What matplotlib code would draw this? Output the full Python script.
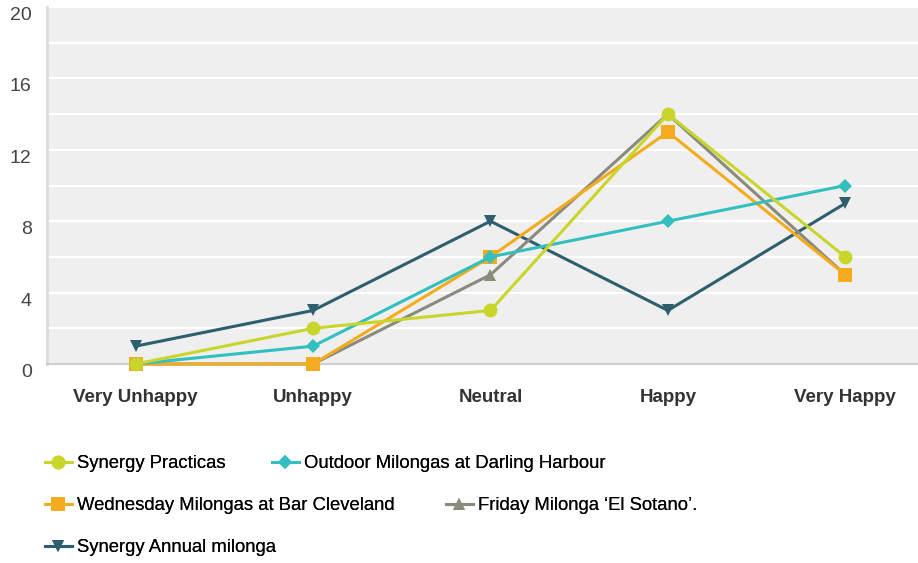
import matplotlib.pyplot as plt

categories = ["Very Unhappy", "Unhappy", "Neutral", "Happy", "Very Happy"]
synergy_practicas = [0, 2, 3, 14, 6]
outdoor_milongas = [0, 1, 6, 8, 10]
wednesday_milongas = [0, 0, 6, 13, 5]
friday_milonga = [0, 0, 5, 14, 5]
annual_milonga = [1, 3, 8, 3, 9]

series = [
    ("Synergy Practicas", synergy_practicas, "#cad52b", "o", 10),
    ("Outdoor Milongas at Darling Harbour", outdoor_milongas, "#33bfbf", "D", 7),
    ("Wednesday Milongas at Bar Cleveland", wednesday_milongas, "#f5ab1e", "s", 10),
    ("Friday Milonga \u2018El Sotano\u2019.", friday_milonga, "#8a8b7c", "^", 9),
    ("Synergy Annual milonga", annual_milonga, "#2d5f6e", "v", 9),
]

fig = plt.figure(figsize=(9.18, 5.63), dpi=100)
ax = fig.add_axes([47 / 918, (563 - 364) / 563, 1 - 47 / 918, 357 / 563])
ax.set_facecolor("#efefef")

x = list(range(len(categories)))
handles = {}
# draw in reverse so the first series sits on top
for name, vals, color, marker, ms in reversed(series):
    h, = ax.plot(x, vals, color=color, lw=2.2, marker=marker, ms=ms,
                 markeredgewidth=0, label=name, zorder=3, clip_on=False)
    handles[name] = h

ax.set_ylim(0, 20)
ax.set_xlim(-0.5, 4.41)
ax.set_yticks(range(0, 21, 2), minor=True)
ax.set_yticks(range(0, 21, 4))
ax.grid(axis="y", which="both", color="white", lw=1.5)
ax.set_axisbelow(True)

for s in ["top", "right"]:
    ax.spines[s].set_visible(False)
ax.spines["left"].set_color("#dcdcdc")
ax.spines["left"].set_linewidth(2)
ax.spines["bottom"].set_color("#cfcfcf")
ax.spines["bottom"].set_linewidth(1.5)

ax.set_xticks(x)
ax.set_xticklabels(categories, fontsize=13.5, fontweight="bold", color="#333333",
                   family="Liberation Sans")
ax.tick_params(axis="x", length=0, pad=18)
ax.tick_params(axis="y", which="both", length=0, pad=11, labelsize=14,
               labelcolor="#444444")
for t in ax.get_yticklabels():
    t.set_family("Liberation Sans")
    t.set_va("top")

# legend entries placed where the reference has them (line start x, row y in px)
legend_pos = [
    ("Synergy Practicas", 45, 464),
    ("Outdoor Milongas at Darling Harbour", 272, 464),
    ("Wednesday Milongas at Bar Cleveland", 45, 506),
    ("Friday Milonga \u2018El Sotano\u2019.", 446, 506),
    ("Synergy Annual milonga", 45, 548),
]
for name, xpx, ypx in legend_pos:
    leg = fig.legend([handles[name]], [name], loc="center left",
                     bbox_to_anchor=(xpx / 918, 1 - ypx / 563),
                     frameon=False, handlelength=1.45, handletextpad=0.3,
                     borderpad=0, borderaxespad=0,
                     prop={"family": "Liberation Sans", "size": 13.3})
    fig.add_artist(leg)

fig.savefig("out.png", dpi=100)
